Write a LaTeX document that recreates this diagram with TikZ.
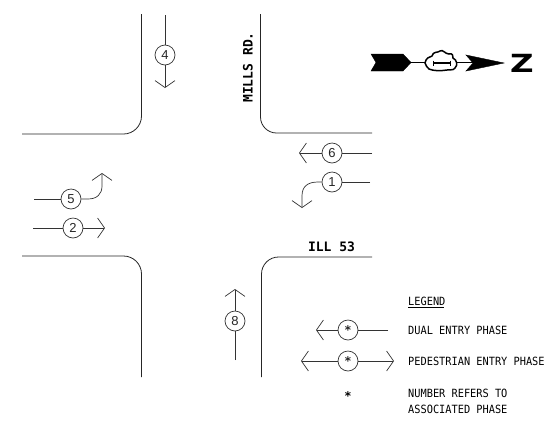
\documentclass[tikz,border=0pt]{standalone}
\usepackage{fontspec}
\setmainfont{Liberation Sans}
\newfontfamily\cadfont{DejaVu Sans Mono}
\newfontfamily\blockfont{DejaVu Sans}
\usetikzlibrary{arrows.meta}
\tikzset{
  curb/.style={line width=0.8pt,black!85},
  lane/.style={line width=0.7pt,black!80},
  barb/.style={lane,-{Straight Barb[length=7pt,width=20pt,line width=0.7pt]}},
  phase/.style={circle,draw,line width=0.7pt,black!80,text=black!85,minimum size=20pt,inner sep=0pt,font=\fontsize{13}{13}\selectfont},
  cad/.style={inner sep=0pt,anchor=base west,text=black,yscale=1.1,font=\cadfont\fontsize{10.3}{12}\selectfont},
  road/.style={inner sep=0pt,text=black,font=\cadfont\bfseries\fontsize{13}{13}\selectfont},
  solid black/.style={fill=black,draw=black,line width=0.4pt}
}
\newcommand{\midstar}{\raisebox{-2.6pt}{\cadfont\bfseries\fontsize{12}{12}\selectfont *}}
\begin{document}
\begin{tikzpicture}[x=1pt,y=-1pt]
\useasboundingbox (0,0) rectangle (557,424);
\fill[white] (0,0) rectangle (557,424);
% curbs
\draw[curb] (141.5,14) -- (141.5,116) arc[start angle=0,end angle=90,radius=18] -- (22,134);
\draw[curb] (260.5,14) -- (260.5,117) arc[start angle=180,end angle=90,radius=16] -- (372,133);
\draw[curb] (22,256) -- (123.5,256) arc[start angle=-90,end angle=0,radius=18] -- (141.5,377);
\draw[curb] (372,257) -- (278.5,257) arc[start angle=-90,end angle=-180,radius=17] -- (261.5,377);
% phases
\coordinate (a4) at (165,15); \coordinate (b4) at (165,88);
\node[phase] (p4) at (165,55) {4};
\draw[lane] (a4) -- (p4); \draw[barb] (p4) -- (b4);
\coordinate (a8) at (235,360); \coordinate (b8) at (235,289);
\node[phase] (p8) at (235,321) {8};
\draw[lane] (a8) -- (p8); \draw[barb] (p8) -- (b8);
\coordinate (a6) at (372,153); \coordinate (b6) at (299,153);
\node[phase] (p6) at (332,153) {6};
\draw[lane] (a6) -- (p6); \draw[barb] (p6) -- (b6);
\coordinate (a1) at (370,182); \coordinate (b1) at (302,208);
\node[phase] (p1) at (332,182) {1};
\draw[lane] (a1) -- (p1);
\draw[barb] (p1.west) -- (318,182) .. controls (307,182) and (302,187) .. (302,196) -- (b1);
\coordinate (a5) at (34,199); \coordinate (b5) at (102,173);
\node[phase] (p5) at (71,199) {5};
\draw[lane] (a5) -- (p5);
\draw[barb] (p5.east) -- (88,199) .. controls (97,199) and (102,194) .. (102,186) -- (b5);
\coordinate (a2) at (33,228); \coordinate (b2) at (105,228);
\node[phase] (p2) at (73,228) {2};
\draw[lane] (a2) -- (p2); \draw[barb] (p2) -- (b2);
% road names
\node[road,rotate=90] (mills) at (248,67.5) {MILLS RD.};
\node[road] (ill) at (331.5,247) {ILL 53};
% north arrow
\draw[solid black] (371,54) -- (403,54) -- (411,62.5) -- (403,71) -- (371,71) -- (376,62.5) -- cycle;
\draw[line width=1pt] (411,62.5) -- (425,62.5);
\draw[line width=1pt] (457,62.5) -- (473,62.5);
\draw[line width=1.5pt,fill=white] (425,63) .. controls (426,58) and (429,57) .. (432,56)
  .. controls (433,51) and (438,53) .. (440,51) .. controls (443,49) and (445,54) .. (449,54)
  .. controls (453,53) and (453,56) .. (453,58) .. controls (457,60) and (458,65) .. (455,68)
  .. controls (453,71) and (450,69) .. (447,70)
  .. controls (441,71) and (433,71) .. (429,69) .. controls (427,68) and (426,65) .. cycle;
\draw[line width=2pt] (433,63) -- (450,63);
\draw[line width=1pt] (433,60.5) -- (433,65.5) (450,60.5) -- (450,65.5);
\draw[solid black] (466,55) -- (504,63) -- (466,71) -- (473,63) -- cycle;
\node[inner sep=0pt,text=black,xscale=1.3,font=\blockfont\bfseries\fontsize{25}{25}\selectfont] (north) at (522,63) {Z};
% legend
\node[cad] (lg) at (408,305) {LEGEND};
\draw[line width=0.7pt] (408,307) -- (444,307);
\coordinate (la) at (388,330); \coordinate (lb) at (316,330);
\node[phase] (l1) at (348,330) {\midstar};
\draw[lane] (la) -- (l1); \draw[barb] (l1) -- (lb);
\node[cad] at (408,334) {DUAL ENTRY PHASE};
\coordinate (lc) at (301,361); \coordinate (ld) at (394,361);
\node[phase] (l2) at (348,361) {\midstar};
\draw[barb] (l2) -- (lc); \draw[barb] (l2) -- (ld);
\node[cad] at (408,365) {PEDESTRIAN ENTRY PHASE};
\node[inner sep=0pt] (star) at (348,396) {\midstar};
\node[cad] at (408,397) {NUMBER REFERS TO};
\node[cad] at (408,413) {ASSOCIATED PHASE};
\end{tikzpicture}
\end{document}
